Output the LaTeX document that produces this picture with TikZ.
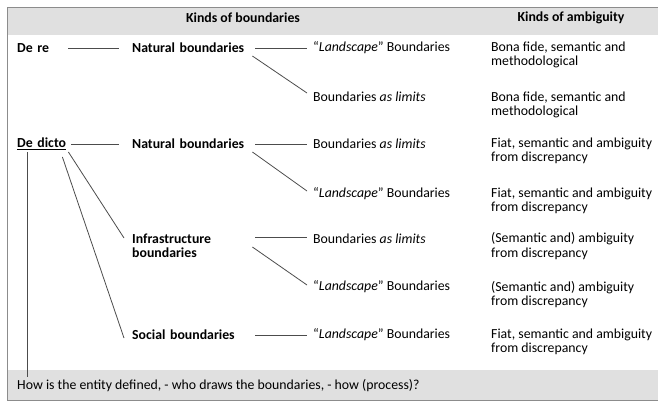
\documentclass[tikz,border=0pt]{standalone}
\usepackage{fontspec}
\setmainfont{Carlito}

\begin{document}
\begin{tikzpicture}[x=1pt,y=-1pt,
  every node/.style={inner sep=0pt, anchor=west, align=left, font=\fontsize{13.8}{14.2}\selectfont},
  kind/.style={font=\fontsize{13.8}{14.2}\selectfont\bfseries},
  link/.style={draw=black!70, line width=0.8pt},
  band/.style={fill=black!12},
  frame/.style={draw=black!45, line width=0.9pt}]
  \useasboundingbox (0,0) rectangle (658,402);

  % header and footer bands
  \fill[band] (7,7) rectangle (658,35);
  \fill[band] (7,370) rectangle (658,400);
  \draw[frame] (658,7) -- (7,7) -- (7,400) -- (658,400);

  \node[kind, anchor=center] (hkb) at (243,18) {Kinds of boundaries};
  \node[kind, anchor=center] (hka) at (571,18) {Kinds of ambiguity};

  % first column
  \node[kind, text width=51pt] (dere) at (17,48) {De re};
  \node[kind, text width=51pt] (dedicto) at (17,144) {\underline{De dicto}};

  % second column
  \node[kind, text width=120pt] (nat1) at (132,48) {Natural boundaries};
  \node[kind, text width=120pt] (nat2) at (132,144) {Natural boundaries};
  \node[kind, text width=120pt] (infra) at (132,246) {Infrastructure\\boundaries};
  \node[kind, text width=120pt] (social) at (132,335) {Social boundaries};

  % third column
  \node (l1) at (313,48) {“\textit{Landscape}” Boundaries};
  \node (m1) at (313,97) {Boundaries \textit{as limits}};
  \node (m2) at (313,144) {Boundaries \textit{as limits}};
  \node (l2) at (313,194) {“\textit{Landscape}” Boundaries};
  \node (m3) at (313,239) {Boundaries \textit{as limits}};
  \node (l3) at (313,287) {“\textit{Landscape}” Boundaries};
  \node (l4) at (313,335) {“\textit{Landscape}” Boundaries};

  % fourth column
  \foreach \i/\y/\t in {1/55/{Bona fide, semantic and\\methodological},
                        2/104.5/{Bona fide, semantic and\\methodological},
                        3/150.5/{Fiat, semantic and ambiguity\\from discrepancy},
                        4/200.5/{Fiat, semantic and ambiguity\\from discrepancy},
                        5/246/{(Semantic and) ambiguity\\from discrepancy},
                        6/294.5/{(Semantic and) ambiguity\\from discrepancy},
                        7/341.5/{Fiat, semantic and ambiguity\\from discrepancy}} {
    \node (a\i) at (491,\y) {\t};
  }

  \node (foot) at (17,386) {How is the entity defined, - who draws the boundaries, - how (process)?};

  % connectors
  \draw[link] (dere.east) -- ([xshift=-13pt]nat1.west);
  \draw[link] ([xshift=3pt]dedicto.east) -- ([xshift=-13pt]nat2.west);
  \draw[link] ([xshift=3pt]nat1.east) -- ([xshift=-6pt]l1.west);
  \draw[link] ([yshift=-8pt]nat1.east) -- ([shift={(-6pt,4pt)}]m1.west);
  \draw[link] ([xshift=3pt]nat2.east) -- ([xshift=-6pt]m2.west);
  \draw[link] ([yshift=-8pt]nat2.east) -- ([shift={(-6pt,3pt)}]l2.west);
  \draw[link] ([shift={(3pt,9pt)}]infra.east) -- ([shift={(-6pt,2pt)}]m3.west);
  \draw[link] ([yshift=-1pt]infra.east) -- ([shift={(-6pt,2pt)}]l3.west);
  \draw[link] ([xshift=3pt]social.east) -- ([xshift=-6pt]l4.west);
  \draw[link] ([yshift=-8pt]dedicto.east) -- ([shift={(-8pt,8pt)}]infra.west);
  \draw[link] ([shift={(-6pt,-13pt)}]dedicto.east) -- ([shift={(-8pt,-3pt)}]social.west);
  \draw[link] ([shift={(10pt,-8pt)}]dedicto.west) -- ([shift={(10pt,9pt)}]foot.west);
\end{tikzpicture}
\end{document}
